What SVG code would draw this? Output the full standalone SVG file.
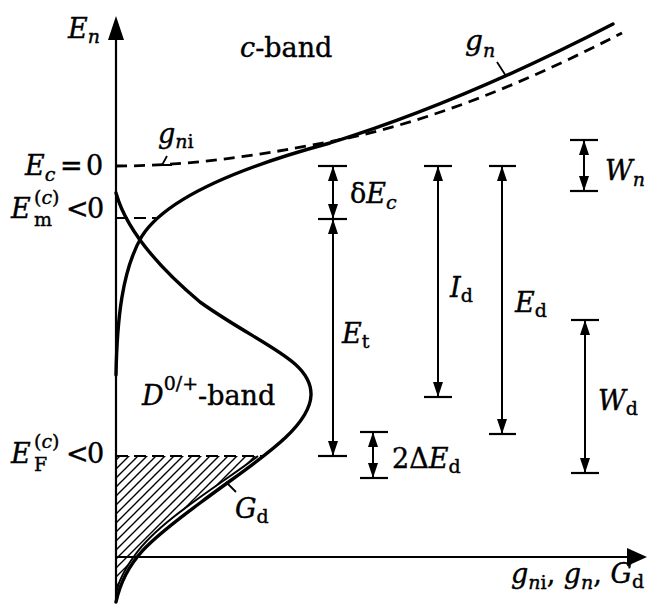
<svg xmlns="http://www.w3.org/2000/svg" width="654" height="604" viewBox="0 0 654 604">
<defs>
<style>
.i{font-style:italic}
.s{font-size:19px}
.ax{stroke:#000;stroke-width:2.2;fill:none}
.cv{stroke:#000;stroke-width:3.4;fill:none;stroke-linecap:round}
.dsh{stroke:#000;stroke-width:2.8;fill:none;stroke-dasharray:11 7}
.tick{stroke:#000;stroke-width:2;fill:none;stroke-dasharray:12 6}
.bar{stroke:#000;stroke-width:2.2}
.dim{stroke:#000;stroke-width:2;fill:none;marker-start:url(#ah);marker-end:url(#ah)}
.lead{stroke:#000;stroke-width:1.8;fill:none}
</style>
<marker id="ah" markerUnits="userSpaceOnUse" markerWidth="16" markerHeight="11" refX="15" refY="5" orient="auto-start-reverse">
<path d="M0,0 L15,5 L0,10 Z" fill="#000"/>
</marker>
<pattern id="hatch" patternUnits="userSpaceOnUse" width="9" height="9">
<path d="M-1,10 L10,-1 M-2,2 L2,-2 M7,11 L11,7" stroke="#000" stroke-width="1.4"/>
</pattern>
</defs>

<g id="axes">
<line class="ax" x1="116" y1="36" x2="116" y2="602"/>
<path d="M116,16 L124,40 L108,40 Z" fill="#000"/>
<line class="ax" x1="116" y1="557" x2="630" y2="557"/>
<path d="M647,557 L627,566 L627,548 Z" fill="#000"/>
</g>

<g id="hatched-region">
<path d="M116,456 L258,456 C220,485 160,520 135,555 C124,570 118,582 116,594 Z" fill="url(#hatch)" stroke="none"/>
<path d="M258,456 C220,485 160,520 135,555 C124,570 118,582 116,594" stroke="#000" stroke-width="2" fill="none"/>
</g>

<g id="curves">
<path id="g-n" class="cv" d="M116,375 C117,320 122,270 142,236 C165,200 230,170 330,143 C420,115 520,72 613,24"/>
<path id="g-ni" class="dsh" d="M116,166 C200,166 280,152 353,137 C450,115 540,75 622,33"/>
<path id="D-band" class="cv" d="M116,193 C125,225 150,260 200,302 C260,345 312,360 311,395 C310,430 250,465 200,503 C150,540 125,560 116,602"/>
<line class="tick" x1="116" y1="218" x2="156" y2="218"/>
<line class="tick" x1="116" y1="456" x2="262" y2="456"/>
<path class="lead" d="M497,62 L506,76"/>
<path class="lead" d="M226,482 L236,492"/>
<path class="lead" d="M167,156 L162,165 L172,165"/>
</g>

<g id="dimensions">
<line class="bar" x1="318" y1="166" x2="347" y2="166"/>
<line class="bar" x1="318" y1="219" x2="347" y2="219"/>
<line class="bar" x1="318" y1="456" x2="347" y2="456"/>
<line class="dim" x1="333" y1="166" x2="333" y2="219"/>
<line class="dim" x1="333" y1="219" x2="333" y2="456"/>
<line class="bar" x1="424" y1="166" x2="452" y2="166"/>
<line class="bar" x1="424" y1="397" x2="452" y2="397"/>
<line class="dim" x1="438" y1="166" x2="438" y2="397"/>
<line class="bar" x1="489" y1="166" x2="516" y2="166"/>
<line class="bar" x1="489" y1="434" x2="516" y2="434"/>
<line class="dim" x1="502" y1="166" x2="502" y2="434"/>
<line class="bar" x1="570" y1="140" x2="598" y2="140"/>
<line class="bar" x1="570" y1="191" x2="598" y2="191"/>
<line class="dim" x1="584" y1="140" x2="584" y2="191"/>
<line class="bar" x1="571" y1="320" x2="599" y2="320"/>
<line class="bar" x1="571" y1="473" x2="599" y2="473"/>
<line class="dim" x1="585" y1="320" x2="585" y2="473"/>
<line class="bar" x1="360" y1="432" x2="388" y2="432"/>
<line class="bar" x1="360" y1="478" x2="388" y2="478"/>
<line class="dim" x1="373" y1="432" x2="373" y2="478"/>
</g>

<g id="labels" font-family="'DejaVu Serif', 'Liberation Serif', serif" font-size="27" fill="#000" stroke="#000" stroke-width="0.4">
<text x="68" y="38"><tspan class="i">E</tspan><tspan class="i s" y="43">n</tspan></text>
<text x="240" y="57" font-size="27"><tspan class="i">c</tspan>-band</text>
<text x="465" y="50" font-size="28"><tspan class="i">g</tspan><tspan class="i s" y="57">n</tspan></text>
<text x="158" y="143"><tspan class="i">g</tspan><tspan class="s" y="148"><tspan class="i">n</tspan>i</tspan></text>
<text x="25" y="175"><tspan class="i">E</tspan><tspan class="i s" y="181">c</tspan><tspan x="60" y="175">=</tspan><tspan x="86" y="175">0</tspan></text>
<text x="11" y="218"><tspan class="i">E</tspan></text>
<text x="34" y="204" class="s">(<tspan class="i">c</tspan>)</text>
<text x="34" y="226" class="s">m</text>
<text x="66" y="218">&lt;<tspan x="87">0</tspan></text>
<text x="11" y="463"><tspan class="i">E</tspan></text>
<text x="34" y="448" class="s">(<tspan class="i">c</tspan>)</text>
<text x="34" y="471" class="s">F</text>
<text x="66" y="463">&lt;<tspan x="87">0</tspan></text>
<text x="142" y="405" font-size="27"><tspan class="i">D</tspan><tspan class="s" y="390">0/+</tspan><tspan y="405">-band</tspan></text>
<text x="235" y="518"><tspan class="i">G</tspan><tspan class="s" y="523">d</tspan></text>
<text x="350" y="203">δ<tspan class="i">E</tspan><tspan class="i s" y="209">c</tspan></text>
<text x="342" y="343"><tspan class="i">E</tspan><tspan class="s" y="348">t</tspan></text>
<text x="450" y="297"><tspan class="i">I</tspan><tspan class="s" y="302">d</tspan></text>
<text x="515" y="312"><tspan class="i">E</tspan><tspan class="s" y="317">d</tspan></text>
<text x="605" y="180"><tspan class="i">W</tspan><tspan class="i s" y="186">n</tspan></text>
<text x="598" y="410"><tspan class="i">W</tspan><tspan class="s" y="415">d</tspan></text>
<text x="392" y="468">2Δ<tspan class="i">E</tspan><tspan class="s" y="473">d</tspan></text>
<text x="511" y="583"><tspan class="i">g</tspan><tspan class="s" y="589"><tspan class="i">n</tspan>i</tspan><tspan y="583">, </tspan><tspan class="i">g</tspan><tspan class="i s" y="589">n</tspan><tspan y="583">, </tspan><tspan class="i">G</tspan><tspan class="s" y="588">d</tspan></text>
</g>
</svg>
